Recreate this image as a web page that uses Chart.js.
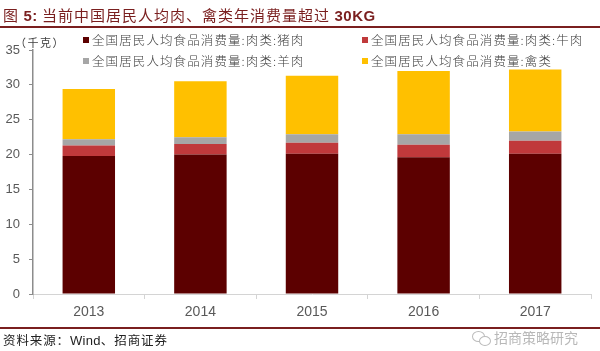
<!DOCTYPE html>
<html>
<head>
<meta charset="utf-8">
<script src="https://cdn.jsdelivr.net/npm/chart.js@4"></script>
<style>
  html, body { margin: 0; padding: 0; background: #fff; }
  #wrap { position: relative; width: 600px; height: 351px; overflow: hidden; font-family: "Noto Sans CJK SC", "Liberation Sans", sans-serif; }
  #c { position: absolute; left: 0; top: 0; }
  .title { position: absolute; left: 3px; top: 5px; font-size: 15px; color: #7a1f1f; white-space: nowrap; letter-spacing: 1px; line-height: 20px; }
  .title b { font-family: "Liberation Sans", sans-serif; font-weight: bold; font-size: 15px; letter-spacing: 0.5px; }
  .rule { position: absolute; left: 0; width: 600px; height: 2px; background: #7a1f1f; }
  .unit { position: absolute; left: 15px; top: 35px; font-size: 11px; color: #404040; white-space: nowrap; line-height: 14px; letter-spacing: 1.5px; }
  .legend { position: absolute; font-size: 12.5px; color: #404040; white-space: nowrap; line-height: 16px; font-weight: 300; letter-spacing: 1.1px; }
  .legend i { display: inline-block; width: 6px; height: 6px; margin-right: 3px; vertical-align: 2px; }
  .source { position: absolute; left: 3px; top: 331px; font-size: 12.5px; color: #222; white-space: nowrap; line-height: 17px; letter-spacing: 0.9px; }
  .source span { font-family: "Liberation Sans", sans-serif; font-size: 13px; letter-spacing: 0.3px; }
  .wm { position: absolute; left: 494px; top: 328px; font-size: 14px; color: #b8b8b8; white-space: nowrap; line-height: 18px; }
  .icon1 { position: absolute; left: 472px; top: 331px; width: 11px; height: 9px; border: 1px solid #bbb; border-radius: 50%; }
  .icon2 { position: absolute; left: 479px; top: 336px; width: 10px; height: 8px; border: 1px solid #bbb; border-radius: 50%; background: #fff; }
</style>
</head>
<body>
<div id="wrap">
  <canvas id="c" width="600" height="351"></canvas>
  <div class="title">图 <b>5:</b> 当前中国居民人均肉、禽类年消费量超过 <b>30KG</b></div>
  <div class="rule" style="top:26px"></div>
  <div class="unit">（千克）</div>
  <div id="legend"></div>
  <div class="rule" style="top:327px"></div>
  <div class="source">资料来源：<span>Wind</span>、招商证券</div>
  <div class="icon1"></div><div class="icon2"></div>
  <div class="wm">招商策略研究</div>
</div>
<script>
const years = ['2013', '2014', '2015', '2016', '2017'];
const seriesNames = [
  '全国居民人均食品消费量:肉类:猪肉',
  '全国居民人均食品消费量:肉类:牛肉',
  '全国居民人均食品消费量:肉类:羊肉',
  '全国居民人均食品消费量:禽类'
];
const pork = [19.8, 20.0, 20.1, 19.6, 20.1];
const beef = [1.5, 1.5, 1.6, 1.8, 1.9];
const mutton = [0.9, 1.0, 1.2, 1.5, 1.3];
const poultry = [7.2, 8.0, 8.4, 9.1, 8.9];
const yTicks = [0, 5, 10, 15, 20, 25, 30, 35];

const colors = ['#5c0000', '#c0393b', '#a6a6a6', '#ffc000'];
const values = [pork, beef, mutton, poultry];

const datasets = values.map((v, i) => ({
  label: seriesNames[i],
  data: v,
  backgroundColor: colors[i],
  borderWidth: 0,
  barPercentage: 0.47,
  categoryPercentage: 1.0
}));

// HTML legend (2 x 2)
const legPos = [[83, 32], [362, 32], [83, 53], [362, 53]];
const legEl = document.getElementById('legend');
seriesNames.forEach((n, i) => {
  const d = document.createElement('div');
  d.className = 'legend';
  d.style.left = legPos[i][0] + 'px';
  d.style.top = legPos[i][1] + 'px';
  d.innerHTML = '<i style="background:' + colors[i] + '"></i>' + n;
  legEl.appendChild(d);
});

new Chart(document.getElementById('c'), {
  type: 'bar',
  data: { labels: years, datasets: datasets },
  options: {
    responsive: false,
    devicePixelRatio: 1,
    animation: false,
    layout: { padding: { left: 0, right: 9, top: 50, bottom: 0 } },
    plugins: { legend: { display: false }, tooltip: { enabled: false } },
    scales: {
      x: {
        stacked: true,
        afterFit: s => { s.height = 57; },
        border: { display: true, color: '#d4d4d4', width: 1 },
        grid: { drawOnChartArea: false, drawTicks: true, tickLength: 5, color: '#d4d4d4', offset: true },
        ticks: { color: '#595959', font: { family: 'Liberation Sans', size: 14 }, padding: 5 }
      },
      y: {
        stacked: true,
        min: 0,
        max: 35,
        afterFit: s => { s.width = 33; },
        afterBuildTicks: s => { s.ticks = yTicks.map(v => ({ value: v })); },
        border: { display: true, color: '#8c8c8c', width: 1.5 },
        grid: { drawOnChartArea: false, drawTicks: true, tickLength: 4, color: '#8c8c8c' },
        ticks: { color: '#595959', font: { family: 'Liberation Sans', size: 13 }, padding: 9 }
      }
    }
  }
});
</script>
</body>
</html>
